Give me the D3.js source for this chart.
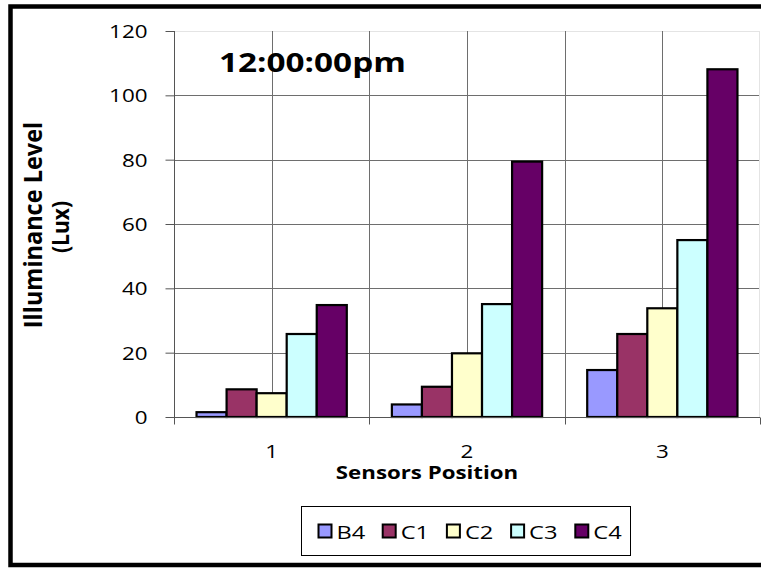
<!DOCTYPE html>
<html>
<head>
<meta charset="utf-8">
<script src="https://cdn.jsdelivr.net/npm/d3@7"></script>
<style>
  body { margin: 0; background: #fff; }
  text { font-family: "Open Sans", "Noto Sans", sans-serif; fill: #000; }
</style>
</head>
<body>
<svg id="chart" width="761" height="568"></svg>
<script>
// chart values
const positions = ["1", "2", "3"];
const seriesNames = ["B4", "C1", "C2", "C3", "C4"];
const seriesColors = ["#9999FF", "#993366", "#FFFFCC", "#CCFFFF", "#660066"];
const valuesB4 = [1.5, 3.9, 14.6];
const valuesC1 = [8.6, 9.4, 25.8];
const valuesC2 = [7.4, 19.8, 33.8];
const valuesC3 = [25.8, 35.1, 55.0];
const valuesC4 = [34.8, 79.4, 108.1];
const yTicks = [0, 20, 40, 60, 80, 100, 120];

const allSeries = [valuesB4, valuesC1, valuesC2, valuesC3, valuesC4];

// the picture looks stretched sideways, so text gets widened too
const SX = 1.28;

let svg = d3.select("#chart");

// outer frame (right edge falls outside the window)
svg.append("rect")
  .attr("x", 10.5).attr("y", 6.5)
  .attr("width", 800).attr("height", 558.5)
  .attr("fill", "none").attr("stroke", "#000").attr("stroke-width", 4.5);

const plot = {left: 174, right: 760, top: 31, bottom: 417};

let x0 = d3.scaleBand().domain(positions).range([plot.left, plot.right]).paddingInner(0).paddingOuter(0);
// excel gap width 150% -> 5 bars plus 1.5 bar widths of gap per category
let x1 = d3.scaleBand().domain(seriesNames).range([0, x0.bandwidth()]).paddingInner(0).paddingOuter(0.75);
let y = d3.scaleLinear().domain([0, 120]).range([plot.bottom, plot.top]);

let grid = svg.append("g");
// horizontal gridlines
grid.selectAll("line.h").data(yTicks.slice(1)).enter().append("line")
  .attr("x1", plot.left).attr("x2", plot.right)
  .attr("y1", d => Math.round(y(d)) + 0.5).attr("y2", d => Math.round(y(d)) + 0.5)
  .attr("stroke", d => d === 120 ? "#e4e4e4" : "#6e6e6e").attr("stroke-width", 1);
// vertical gridlines at category centres and boundaries
let vgrid = [];
positions.forEach((p, i) => {
  vgrid.push(x0(p) + x0.bandwidth() / 2);
  if (i > 0) vgrid.push(x0(p));
});
grid.selectAll("line.v").data(vgrid).enter().append("line")
  .attr("x1", d => Math.round(d) + 0.5).attr("x2", d => Math.round(d) + 0.5)
  .attr("y1", plot.top).attr("y2", plot.bottom)
  .attr("stroke", "#6e6e6e").attr("stroke-width", 1);
grid.append("line")
  .attr("x1", plot.right - 0.5).attr("x2", plot.right - 0.5)
  .attr("y1", plot.top).attr("y2", plot.bottom)
  .attr("stroke", "#e4e4e4");

// bars
let groups = svg.append("g").selectAll("g").data(positions).enter().append("g")
  .attr("transform", d => "translate(" + x0(d) + ",0)");
groups.selectAll("rect").data((d, i) => seriesNames.map((s, k) => ({s: s, k: k, v: allSeries[k][i]})))
  .enter().append("rect")
  .attr("x", d => x1(d.s))
  .attr("y", d => y(d.v))
  .attr("width", x1.bandwidth())
  .attr("height", d => y(0) - y(d.v))
  .attr("fill", d => seriesColors[d.k])
  .attr("stroke", "#000").attr("stroke-width", 2.2);

// y axis
let yAxis = d3.axisLeft(y).tickValues(yTicks).tickSize(9).tickPadding(0).tickFormat(d3.format("d"));
let ya = svg.append("g").attr("transform", "translate(" + (plot.left + 0.5) + ",0)").call(yAxis);
ya.select(".domain").attr("stroke", "#555").attr("d", "M0," + plot.top + "V" + plot.bottom);
ya.selectAll(".tick line").attr("stroke", "#555");
ya.selectAll(".tick text").remove();
ya.selectAll(".tick").append("text")
  .attr("transform", "translate(-27,6.5) scale(" + SX + ",1)")
  .attr("text-anchor", "end")
  .style("font-size", "17.5px")
  .text(d => d);

// x axis
let xa = svg.append("g").attr("transform", "translate(0," + (plot.bottom + 0.5) + ")");
xa.append("line").attr("x1", plot.left).attr("x2", plot.right).attr("stroke", "#555");
let boundaries = positions.map(p => x0(p)).concat([plot.right]);
xa.selectAll("line.t").data(boundaries).enter().append("line")
  .attr("x1", d => Math.round(d) + 0.5).attr("x2", d => Math.round(d) + 0.5)
  .attr("y1", 0).attr("y2", 7).attr("stroke", "#555");
xa.selectAll("text").data(positions).enter().append("text")
  .attr("transform", d => "translate(" + (x0(d) + x0.bandwidth() / 2) + ",40) scale(" + SX + ",1)")
  .attr("text-anchor", "middle")
  .style("font-size", "17.5px")
  .text(d => d);

// titles
svg.append("text")
  .attr("transform", "translate(219,72) scale(" + SX + ",1)")
  .style("font-size", "26px").style("font-weight", "bold")
  .text("12:00:00pm");

svg.append("text")
  .attr("transform", "translate(427,479) scale(" + SX + ",1)")
  .attr("text-anchor", "middle")
  .style("font-size", "17.4px").style("font-weight", "bold")
  .text("Sensors Position");

svg.append("text")
  .attr("transform", "translate(42,225) rotate(-90) scale(1,1.08)")
  .attr("text-anchor", "middle")
  .style("font-size", "23.5px").style("font-weight", "bold")
  .text("Illuminance Level");
svg.append("text")
  .attr("transform", "translate(69,227) rotate(-90) scale(1,1.08)")
  .attr("text-anchor", "middle")
  .style("font-size", "21px").style("font-weight", "bold")
  .text("(Lux)");

// legend
let legend = svg.append("g").attr("transform", "translate(301.5,506.5)");
legend.append("rect").attr("width", 329).attr("height", 49)
  .attr("fill", "#fff").attr("stroke", "#000").attr("stroke-width", 1);
let items = legend.selectAll("g").data(seriesNames).enter().append("g")
  .attr("transform", (d, i) => "translate(" + (17 + i * 64.2) + ",18)");
items.append("rect").attr("width", 13).attr("height", 13)
  .attr("fill", (d, i) => seriesColors[i]).attr("stroke", "#000").attr("stroke-width", 2);
items.append("text")
  .attr("transform", "translate(18,14) scale(" + SX + ",1)")
  .style("font-size", "18.5px")
  .text(d => d);
</script>
</body>
</html>
